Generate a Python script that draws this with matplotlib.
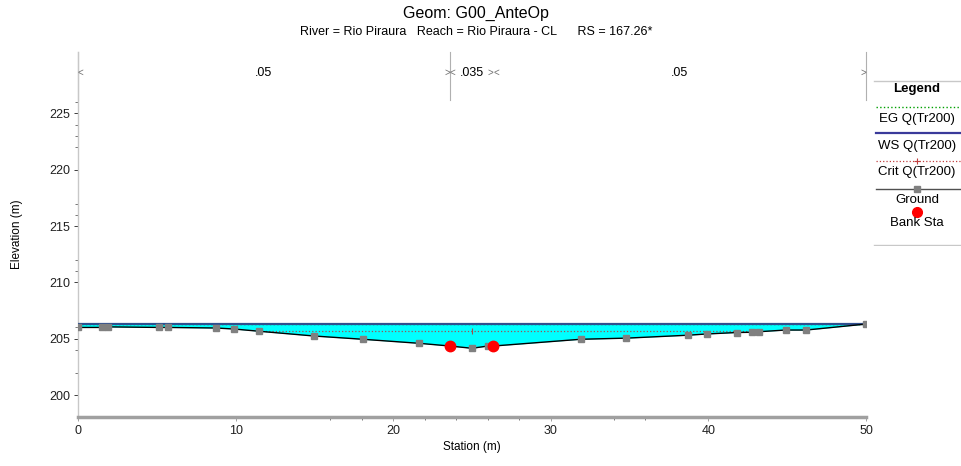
import numpy as np
import matplotlib
matplotlib.use("Agg")
import matplotlib.pyplot as plt

plt.rcParams["font.family"] = ["Liberation Sans", "DejaVu Sans"]

# =========================
# DATOS
# =========================
station = [0.0, 1.5, 1.9, 5.16, 5.69, 8.76, 9.90, 11.5, 14.97, 18.06, 21.66,
           23.6, 25.0, 26.0, 26.35, 31.9, 34.8, 38.7, 39.9, 41.8, 42.75, 43.2,
           44.9, 46.2, 50.0]
elevation = [206.0, 206.0, 206.05, 206.0, 206.0, 205.95, 205.86, 205.66, 205.24,
             204.95, 204.59, 204.35, 204.15, 204.35, 204.35, 204.95, 205.05,
             205.31, 205.42, 205.55, 205.57, 205.62, 205.77, 205.77, 206.30]
bank_sta = [23.6, 26.35]
ws_elev = 206.27
eg_elev = 206.29
crit_elev = 205.64
n_breaks = [0.0, 23.6, 26.35, 50.0]
n_values = [".05", ".035", ".05"]

title = "Geom: G00_AnteOp"
subtitle = "River = Rio Piraura   Reach = Rio Piraura - CL      RS = 167.26*"

st = np.array(station)
el = np.array(elevation)


def extent(level):
    # first/last station where the ground is below a level
    below = np.where(el < level)[0]
    i0, i1 = below[0], below[-1]
    if i0 > 0:
        x0 = np.interp(level, [el[i0], el[i0 - 1]], [st[i0], st[i0 - 1]])
    else:
        x0 = st[0]
    if i1 < len(st) - 1:
        x1 = np.interp(level, [el[i1], el[i1 + 1]], [st[i1], st[i1 + 1]])
    else:
        x1 = st[-1]
    return x0, x1


W, H = 961, 466
fig = plt.figure(figsize=(W / 100, H / 100), dpi=100)
ax = fig.add_axes([78 / W, 1 - 417 / H, (866 - 78) / W, (417 - 52) / H])

ax.fill_between(st, el, ws_elev, where=el <= ws_elev, interpolate=True,
                color="#00ffff", lw=0, zorder=1)

x0, x1 = extent(eg_elev)
ax.plot([x0, x1], [eg_elev, eg_elev], color="#00a000", ls=":", lw=1, zorder=2)
x0, x1 = extent(ws_elev)
ax.plot([x0, x1], [ws_elev, ws_elev], color="#2f4f8f", lw=1.6, zorder=3)
x0, x1 = extent(crit_elev)
ax.plot([x0, x1], [crit_elev, crit_elev], color="#a05050", ls=":", lw=0.9, zorder=3)
ax.plot([st[np.argmin(el)]], [crit_elev], marker="|", color="#a05050", ms=5,
        mew=0.8, zorder=3)

ax.plot(st, el, color="black", lw=1, zorder=4)
ax.plot(st, el, ls="none", marker="s", ms=4.5, color="#808080", zorder=5)
ax.plot(bank_sta, np.interp(bank_sta, st, el), ls="none", marker="o", ms=7.5,
        color="#ff0000", zorder=6)

ax.set_xlim(0, 50)
ax.set_ylim(198.05, 230.45)

# manning n
for b in (0.0, 23.6, 50.0):
    ax.plot([b, b], [226.2, 230.45], color="#b0b0b0", lw=0.8, clip_on=False)
for i, v in enumerate(n_values):
    ax.text((n_breaks[i] + n_breaks[i + 1]) / 2, 228.6, v, ha="center",
            va="center", fontsize=9)
for i, b in enumerate(n_breaks):
    if i > 0:
        ax.text(b, 228.6, ">", ha="right", va="center", fontsize=7, color="#707070")
    if i < len(n_breaks) - 1:
        ax.text(b, 228.6, "<", ha="left", va="center", fontsize=7, color="#707070")

ax.set_xticks([0, 10, 20, 30, 40, 50])
ax.set_xticks([16, 18, 22, 24, 26, 28, 34, 36], minor=True)
ax.set_yticks([200, 205, 210, 215, 220, 225])
ax.set_yticks([202, 204, 206, 211, 212, 216, 217, 222, 223, 224, 226], minor=True)
ax.tick_params(axis="both", labelsize=9, colors="#202020", length=3, width=0.6,
               pad=2.5)
ax.tick_params(axis="both", which="minor", length=2.5, width=0.6, color="#606060")
ax.tick_params(axis="x", which="major", length=3, color="#909090")
for s in ["top", "right"]:
    ax.spines[s].set_visible(False)
ax.spines["left"].set_color("#c8c8c8")
ax.spines["left"].set_linewidth(1)
ax.spines["bottom"].set_color("#a0a0a0")
ax.spines["bottom"].set_linewidth(2.5)

ax.set_xlabel("Station (m)", fontsize=8.5, labelpad=3)
ax.set_ylabel("Elevation (m)", fontsize=8.5, labelpad=19)

fig.text(476 / W, 1 - 13 / H, title, ha="center", va="center", fontsize=11.5)
fig.text(476 / W, 1 - 32 / H, subtitle, ha="center", va="center", fontsize=9)

# =========================
# LEYENDA
# =========================
lg = fig.add_axes([870 / W, 1 - 246 / H, (W - 870) / W, 166 / H])
lg.set_xlim(870, W)
lg.set_ylim(246, 80)
lg.axis("off")
lg.plot([874, W], [81, 81], color="#c8c8c8", lw=1)
lg.plot([874, W], [245, 245], color="#c8c8c8", lw=1)
cx = 917
fs = 9.5
lg.text(cx, 89, "Legend", ha="center", va="center", fontsize=fs, weight="bold")
lg.plot([876, W], [107, 107], color="#00a000", ls=":", lw=1)
lg.text(cx, 119, "EG Q(Tr200)", ha="center", va="center", fontsize=fs)
lg.plot([876, W], [133, 133], color="#3a3a9a", lw=1.6)
lg.text(cx, 146, "WS Q(Tr200)", ha="center", va="center", fontsize=fs)
lg.plot([876, W], [161, 161], color="#c04040", ls=":", lw=0.9)
lg.plot([cx], [161], marker="+", color="#c04040", ms=5, mew=0.8)
lg.text(cx, 172, "Crit Q(Tr200)", ha="center", va="center", fontsize=fs)
lg.plot([876, W], [189, 189], color="#505050", lw=1)
lg.plot([cx], [189], marker="s", ms=4, color="#808080")
lg.text(cx, 200, "Ground", ha="center", va="center", fontsize=fs)
lg.plot([cx], [212], marker="o", ms=7, color="#ff0000")
lg.text(cx, 223, "Bank Sta", ha="center", va="center", fontsize=fs)

fig.savefig("out.png", dpi=100)
